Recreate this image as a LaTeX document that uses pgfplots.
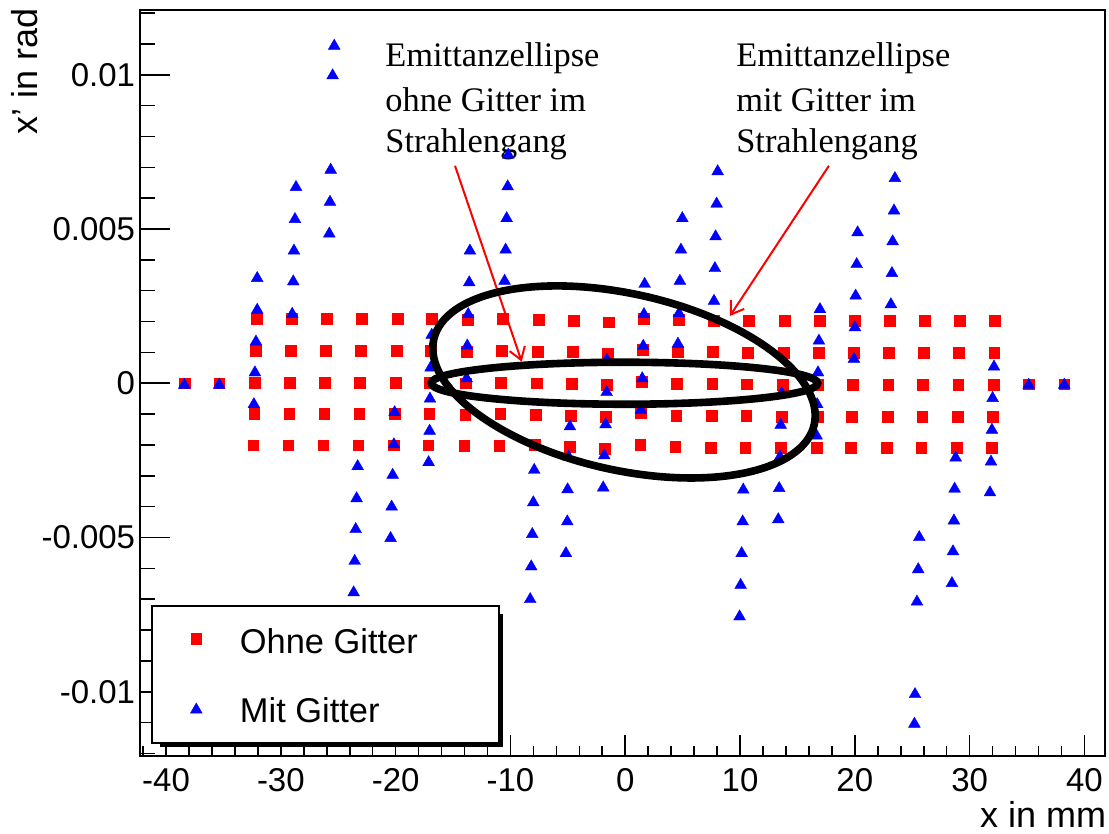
\documentclass[border=0pt]{standalone}
\usepackage{pgfplots}
\pgfplotsset{compat=1.18}
\usepackage{fontspec}
\setmainfont{Liberation Sans}
\newfontfamily\seriffont{Liberation Serif}
\usetikzlibrary{arrows.meta}
\pgfplotsset{singlemark legend/.style={legend image code/.code={\draw[##1,yshift=3pt] plot coordinates {(0pt,0pt)};}}}

\pgfplotstableread{
x y
-38.41 0.00000
-35.37 0.00000
-32.11 0.00209
-32.19 0.00106
-32.26 0.00003
-32.33 -0.00100
-32.41 -0.00201
-29.06 0.00209
-29.14 0.00106
-29.21 0.00003
-29.28 -0.00100
-29.36 -0.00201
-26.01 0.00209
-26.09 0.00106
-26.16 0.00003
-26.23 -0.00100
-26.31 -0.00201
-22.96 0.00209
-23.04 0.00106
-23.11 0.00003
-23.18 -0.00100
-23.26 -0.00201
-19.85 0.00209
-19.93 0.00106
-20.00 0.00003
-20.07 -0.00100
-20.15 -0.00201
-16.86 0.00209
-16.94 0.00106
-17.01 0.00003
-17.08 -0.00100
-17.16 -0.00201
-13.73 0.00205
-13.81 0.00103
-13.88 0.00000
-13.95 -0.00103
-14.03 -0.00203
-10.68 0.00208
-10.76 0.00105
-10.83 0.00002
-10.90 -0.00100
-10.98 -0.00203
-7.57 0.00205
-7.65 0.00103
-7.72 0.00000
-7.79 -0.00103
-7.87 -0.00200
-4.52 0.00203
-4.60 0.00102
-4.67 -0.00002
-4.74 -0.00104
-4.82 -0.00206
-1.47 0.00198
-1.55 0.00097
-1.62 -0.00006
-1.69 -0.00108
-1.77 -0.00211
1.60 0.00209
1.52 0.00108
1.45 0.00005
1.38 -0.00097
1.30 -0.00200
4.65 0.00205
4.57 0.00103
4.50 -0.00002
4.43 -0.00104
4.35 -0.00206
7.73 0.00202
7.65 0.00102
7.58 -0.00002
7.51 -0.00105
7.43 -0.00208
10.75 0.00202
10.67 0.00100
10.60 -0.00003
10.53 -0.00106
10.45 -0.00208
13.86 0.00202
13.78 0.00099
13.71 -0.00005
13.64 -0.00108
13.56 -0.00209
16.96 0.00202
16.88 0.00099
16.81 -0.00005
16.74 -0.00108
16.66 -0.00209
19.96 0.00202
19.88 0.00099
19.81 -0.00005
19.74 -0.00108
19.66 -0.00209
23.06 0.00202
22.98 0.00099
22.91 -0.00005
22.84 -0.00108
22.76 -0.00209
26.08 0.00202
26.00 0.00099
25.93 -0.00005
25.86 -0.00108
25.78 -0.00209
29.16 0.00202
29.08 0.00099
29.01 -0.00005
28.94 -0.00108
28.86 -0.00209
32.21 0.00202
32.13 0.00099
32.06 -0.00005
31.99 -0.00108
31.91 -0.00209
35.14 -0.00003
38.24 -0.00003
}\ohnegitter

\pgfplotstableread{
x y
-38.41 0.00000
-35.37 0.00000
-32.06 0.00346
-32.06 0.00243
-32.17 0.00140
-32.26 0.00040
-32.35 -0.00063
-28.68 0.00641
-28.77 0.00537
-28.86 0.00435
-28.92 0.00335
-29.01 0.00230
-25.35 0.01099
-25.49 0.01003
-25.66 0.00697
-25.72 0.00593
-25.78 0.00490
-23.31 -0.00264
-23.40 -0.00368
-23.48 -0.00468
-23.57 -0.00571
-23.66 -0.00673
-20.09 -0.00089
-20.15 -0.00193
-20.26 -0.00292
-20.35 -0.00395
-20.44 -0.00497
-16.86 0.00162
-16.95 0.00056
-17.01 -0.00045
-17.04 -0.00149
-17.13 -0.00251
-13.53 0.00435
-13.59 0.00332
-13.68 0.00229
-13.76 0.00127
-13.82 0.00021
-10.19 0.00746
-10.24 0.00643
-10.33 0.00540
-10.42 0.00438
-10.51 0.00337
-7.93 -0.00276
-8.01 -0.00381
-8.10 -0.00484
-8.19 -0.00589
-8.28 -0.00695
-4.82 -0.00135
-4.93 -0.00233
-5.02 -0.00339
-5.05 -0.00443
-5.17 -0.00546
-1.62 0.00081
-1.62 -0.00024
-1.71 -0.00128
-1.83 -0.00229
-1.92 -0.00333
1.69 0.00327
1.63 0.00229
1.57 0.00126
1.48 0.00021
1.37 -0.00081
4.97 0.00540
4.85 0.00438
4.76 0.00337
4.68 0.00232
4.59 0.00133
8.05 0.00692
7.96 0.00587
7.87 0.00481
7.81 0.00378
7.73 0.00272
10.28 -0.00340
10.23 -0.00443
10.14 -0.00546
10.05 -0.00649
9.96 -0.00751
13.62 -0.00027
13.54 -0.00130
13.48 -0.00233
13.41 -0.00335
13.33 -0.00436
16.96 0.00245
16.87 0.00143
16.79 0.00040
16.72 -0.00063
16.67 -0.00165
20.24 0.00494
20.16 0.00391
20.07 0.00289
20.01 0.00186
19.92 0.00084
23.49 0.00670
23.41 0.00565
23.29 0.00465
23.23 0.00362
23.14 0.00261
25.61 -0.00494
25.52 -0.00598
25.41 -0.00703
25.24 -0.01003
25.19 -0.01099
28.78 -0.00236
28.69 -0.00337
28.63 -0.00440
28.55 -0.00540
28.46 -0.00643
32.12 0.00059
32.00 -0.00043
31.94 -0.00146
31.86 -0.00249
31.77 -0.00349
35.14 0.00000
38.24 0.00000
}\mitgitter

\begin{document}
\begin{tikzpicture}
\path[use as bounding box] (0,0) rectangle (554.5pt,417pt);
\begin{axis}[
  at={(70pt,38.75pt)}, anchor=south west,
  scale only axis, width=482.5pt, height=373.25pt,
  xmin=-42.27, xmax=41.79, ymin=-0.0121, ymax=0.0121,
  axis line style={line width=1pt},
  tick style={line width=0.8pt, black},
  tick align=inside, tick pos=left,
  xtick={-40,-30,-20,-10,0,10,20,30,40},
  xticklabels={-40,-30,-20,-10,0,10,20,30,40},
  minor xtick={-42,-40,...,40},
  ytick={-0.01,-0.005,0,0.005,0.01},
  yticklabels={-0.01,-0.005,0,0.005,0.01},
  minor ytick={-0.012,-0.011,-0.009,-0.008,-0.007,-0.006,-0.004,-0.003,-0.002,-0.001,0.001,0.002,0.003,0.004,0.006,0.007,0.008,0.009,0.011,0.012},
  scaled ticks=false,
  xtick style={/pgfplots/major tick length=10.5pt,/pgfplots/minor tick length=5.25pt},
  ytick style={/pgfplots/major tick length=15pt,/pgfplots/minor tick length=7.5pt},
  tick label style={font=\fontsize{16.5}{19}\selectfont, inner sep=0pt},
  xticklabel style={yshift=-5.9pt},
  yticklabel style={xshift=-2.25pt},
  clip=false,
  legend cell align=left,
  legend style={at={(rel axis cs:0.0518,0.1712)}, anchor=north west, draw=none, fill=none,
    inner sep=0pt, row sep=18.5pt, font=\fontsize{17.2}{20}\selectfont,
    nodes={inner sep=0pt, text height=12pt, text depth=4pt},
    /tikz/every odd column/.append style={column sep=18.9pt}},
]
\addplot[only marks, mark=square*, color=red, mark size=2.7pt, mark options={line width=0.2pt},
  singlemark legend]
  table[x=x,y=y] {\ohnegitter};
\addlegendentry{Ohne Gitter}
\addplot[only marks, mark=triangle*, color=blue, mark size=3.4pt, mark options={line width=0.2pt, yshift=-0.85pt},
  singlemark legend]
  table[x=x,y=y] {\mitgitter};
\addlegendentry{Mit Gitter}

\coordinate (EA) at (axis cs:-0.07,0);
\coordinate (EB) at (axis cs:-0.11,0.000042);

% legend frame with shadow
\fill[black] (rel axis cs:0.0207,0.01206) rectangle (rel axis cs:0.3762,0.1909);
\filldraw[fill=white, draw=black, line width=1pt] (rel axis cs:0.01275,0.01849) rectangle (rel axis cs:0.3723,0.202);

% arrows
\draw[red, line width=1pt, -{Straight Barb[length=6pt,width=8pt]}] (axis cs:-14.83,0.00705) -- (axis cs:-9.02,0.0007);
\draw[red, line width=1pt, -{Straight Barb[length=6pt,width=8pt]}] (axis cs:17.74,0.00705) -- (axis cs:9.12,0.00218);

% annotation texts
\node[anchor=base west, inner sep=0pt, font=\seriffont\fontsize{17.2}{20}\selectfont] at (axis cs:-20.93,0.010266) {Emittanzellipse};
\node[anchor=base west, inner sep=0pt, font=\seriffont\fontsize{17.2}{20}\selectfont] at (axis cs:-20.93,0.008807) {ohne Gitter im};
\node[anchor=base west, inner sep=0pt, font=\seriffont\fontsize{17.2}{20}\selectfont] at (axis cs:-20.93,0.007477) {Strahlengang};
\node[anchor=base west, inner sep=0pt, font=\seriffont\fontsize{17.2}{20}\selectfont] at (axis cs:9.64,0.010266) {Emittanzellipse};
\node[anchor=base west, inner sep=0pt, font=\seriffont\fontsize{17.2}{20}\selectfont] at (axis cs:9.64,0.008807) {mit Gitter im};
\node[anchor=base west, inner sep=0pt, font=\seriffont\fontsize{17.2}{20}\selectfont] at (axis cs:9.64,0.007477) {Strahlengang};

% axis titles
\node[anchor=base east, inner sep=0pt, font=\fontsize{18}{21}\selectfont] at (rel axis cs:1.0016,-0.0955) {x in mm};
\node[rotate=90, anchor=base east, inner sep=0pt, font=\fontsize{18}{21}\selectfont] at (rel axis cs:-0.1067,1.003) {x’ in rad};
\end{axis}
\draw[line width=3.8pt, cm={9.66,0,0,1.05,(EA)}] (0,0) circle (10pt);
\draw[line width=3.8pt, cm={9.56,-1.685,0,4.495,(EB)}] (0,0) circle (10pt);
\end{tikzpicture}
\end{document}
